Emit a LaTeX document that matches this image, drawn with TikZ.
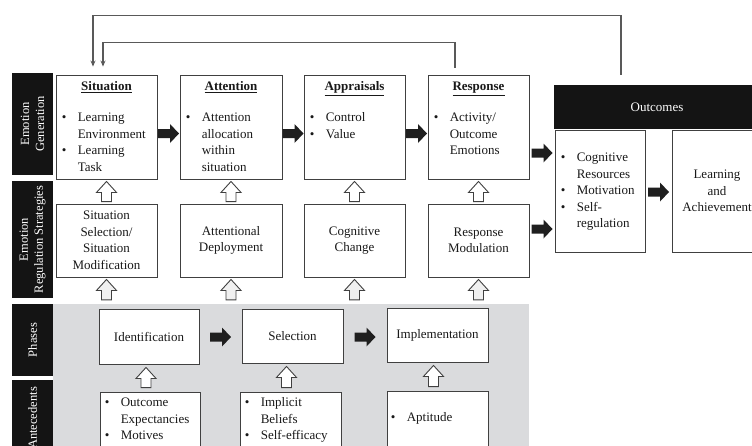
\documentclass[tikz,border=0pt]{standalone}
\usepackage{fontspec}
\setmainfont{Liberation Serif}
\usetikzlibrary{calc,arrows.meta}
\newcommand\mainfs{\fontsize{13}{16.5}\selectfont}
\newcommand\labfs{\fontsize{12.5}{15}\selectfont}
\newcommand\blist[1]{\begin{tabular}[t]{@{}l@{\hspace{11.5pt}}l@{}}#1\end{tabular}}
% hollow up arrow: #1 lower anchor, #2 upper anchor, #3 bottom gap, #4 top gap
\newcommand\hollowup[5][hollow]{%
  \draw[#1] let \p1=(#2), \p2=(#3), \n1={\y1+#4pt}, \n2={\y2-#5pt}, \n3={\y2-#5pt-11pt} in
  ({\x1-5pt},\n1) -- ({\x1-5pt},\n3) -- ({\x1-10pt},\n3) -- (\x1,\n2) --
  ({\x1+10pt},\n3) -- ({\x1+5pt},\n3) -- ({\x1+5pt},\n1) -- cycle;}
% black right arrow: #1 left node, #2 right node, #3 y (px)
\newcommand\blackright[3]{%
  \fill[blk] let \p1=(#1.east), \p2=(#2.west), \p3=(0,#3), \n1={(\x1+\x2)/2} in
  ({\n1-10.5pt},{\y3+4.5pt}) -- ({\n1+1.5pt},{\y3+4.5pt}) -- ({\n1+1.5pt},{\y3+9.5pt}) --
  ({\n1+10.5pt},\y3) -- ({\n1+1.5pt},{\y3-9.5pt}) -- ({\n1+1.5pt},{\y3-4.5pt}) --
  ({\n1-10.5pt},{\y3-4.5pt}) -- cycle;}
\begin{document}
\begin{tikzpicture}[x=1pt,y=-1pt,
  box/.style={draw=black!75,line width=0.9pt,fill=white,inner sep=0pt,align=center,font=\mainfs,text=black!90},
  lab/.style={fill=black!92,text=white,inner sep=0pt,minimum height=41pt,rotate=90,align=center,font=\labfs},
  bar/.style={fill=black!92,text=white,inner sep=0pt,align=center,font=\mainfs},
  ttl/.style={anchor=base,inner sep=0pt,font=\mainfs,text=black!90},
  bl/.style={anchor=base west,inner sep=0pt,font=\mainfs,text=black!90},
  hollow/.style={draw=black!75,line width=0.9pt,fill=white},
  hollowg/.style={draw=black!75,line width=0.9pt,fill=black!6},
  blk/.style={fill=black!88},
  fb/.style={draw=black!65,line width=1.2pt,-{Stealth[length=6pt,width=5pt]}}]
\useasboundingbox (0,0) rectangle (752,445);
\fill[white] (0,0) rectangle (752,445);

% grey background
\node[fill={rgb,255:red,218;green,219;blue,221},inner sep=0pt,minimum width=476pt,minimum height=156pt] (grey) at (291,382) {};

% left labels
\node[lab,minimum width=102pt] (lgen) at (32.5,124) {Emotion\\Generation};
\node[lab,minimum width=117pt] (lreg) at (32.5,239.5) {Emotion\\Regulation Strategies};
\node[lab,minimum width=72pt] (lph) at (32.5,340) {Phases};
\node[lab,minimum width=76pt] (lant) at (32.5,418) {Antecedents};

% emotion generation
\node[box,minimum width=101pt,minimum height=104pt] (sit) at (106.5,127) {};
\node[box,minimum width=102pt,minimum height=104pt] (att) at (231,127) {};
\node[box,minimum width=101pt,minimum height=104pt] (app) at (354.5,127) {};
\node[box,minimum width=101pt,minimum height=104pt] (resp) at (478.5,127) {};
\node[ttl] (sitT) at ([yshift=-16pt]sit.north) {\underline{\textbf{Situation}}};
\node[ttl] (attT) at ([yshift=-16pt]att.north) {\underline{\textbf{Attention}}};
\node[ttl] (appT) at ([yshift=-16pt]app.north) {\underline{\textbf{Appraisals}}};
\node[ttl] (respT) at ([yshift=-16pt]resp.north) {\underline{\textbf{Response}}};
\node[bl] (sitB) at ([xshift=6pt,yshift=-47pt]sit.north west)
  {\blist{\textbullet & Learning\\ & Environment\\ \textbullet & Learning\\ & Task}};
\node[bl] (attB) at ([xshift=6pt,yshift=-47pt]att.north west)
  {\blist{\textbullet & Attention\\ & allocation\\ & within\\ & situation}};
\node[bl] (appB) at ([xshift=6pt,yshift=-47pt]app.north west)
  {\blist{\textbullet & Control\\ \textbullet & Value}};
\node[bl] (respB) at ([xshift=6pt,yshift=-47pt]resp.north west)
  {\blist{\textbullet & Activity/\\ & Outcome\\ & Emotions}};

% regulation strategies
\node[box,minimum width=101pt,minimum height=73pt] (sitreg) at (106.5,240.5) {Situation\\Selection/\\Situation\\Modification};
\node[box,minimum width=102pt,minimum height=73pt] (attreg) at (231,240.5) {Attentional\\Deployment};
\node[box,minimum width=101pt,minimum height=73pt] (cogreg) at (354.5,240.5) {Cognitive\\Change};
\node[box,minimum width=101pt,minimum height=73pt] (respreg) at (478.5,240.5) {Response\\Modulation};

% outcomes
\node[bar,minimum width=206pt,minimum height=44pt] (outbar) at (657,107) {Outcomes};
\node[box,minimum width=90pt,minimum height=122pt] (out1) at (600,191) {};
\node[bl] (out1B) at ([xshift=6pt,yshift=-32pt]out1.north west)
  {\blist{\textbullet & Cognitive\\ & Resources\\ \textbullet & Motivation\\ \textbullet & Self-\\ & regulation}};
\node[box,minimum width=90pt,minimum height=122pt] (la) at (717,191) {Learning\\and\\Achievement};

% phases
\node[box,minimum width=100pt,minimum height=55pt] (id) at (149,336.5) {Identification};
\node[box,minimum width=101pt,minimum height=54pt] (sel) at (292.5,336) {Selection};
\node[box,minimum width=101pt,minimum height=54pt] (impl) at (437.5,335) {Implementation};

% antecedents
\node[box,minimum width=100pt,minimum height=78pt] (a1) at (150,431) {};
\node[box,minimum width=101pt,minimum height=78pt] (a2) at (290.5,431) {};
\node[box,minimum width=101pt,minimum height=79pt] (a3) at (437.5,430.5) {};
\node[bl] (a1B) at ([xshift=5pt,yshift=-15pt]a1.north west)
  {\blist{\textbullet & Outcome\\ & Expectancies\\ \textbullet & Motives}};
\node[bl] (a2B) at ([xshift=5pt,yshift=-15pt]a2.north west)
  {\blist{\textbullet & Implicit\\ & Beliefs\\ \textbullet & Self-efficacy}};
\node[bl] (a3B) at ([xshift=4pt,yshift=-31pt]a3.north west)
  {\blist{\textbullet & Aptitude}};

% black arrows
\blackright{sit}{att}{133.5}
\blackright{att}{app}{133.5}
\blackright{app}{resp}{133.5}
\blackright{resp}{out1}{153}
\blackright{respreg}{out1}{229}
\blackright{out1}{la}{192}
\blackright{id}{sel}{337}
\blackright{sel}{impl}{337}

% hollow arrows: regulation -> generation
\hollowup{sitreg.north}{sit.south}{2}{2}
\hollowup{attreg.north}{att.south}{2}{2}
\hollowup{cogreg.north}{app.south}{2}{2}
\hollowup{respreg.north}{resp.south}{2}{2}
% grey band -> regulation
\coordinate (g1) at (sitreg.south |- grey.north);
\coordinate (g2) at (attreg.south |- grey.north);
\coordinate (g3) at (cogreg.south |- grey.north);
\coordinate (g4) at (respreg.south |- grey.north);
\hollowup[hollowg]{g1}{sitreg.south}{4}{2}
\hollowup[hollowg]{g2}{attreg.south}{4}{2}
\hollowup[hollowg]{g3}{cogreg.south}{4}{2}
\hollowup[hollowg]{g4}{respreg.south}{4}{2}
% antecedents -> phases
\hollowup{[xshift=-4pt]a1.north}{[xshift=-4pt]id.south}{4}{3}
\hollowup{[xshift=-4pt]a2.north}{[xshift=-4pt]sel.south}{4}{3}
\hollowup{[xshift=-4pt]a3.north}{[xshift=-4pt]impl.south}{4}{3}

% feedback lines
\draw[fb] ([xshift=-23.5pt,yshift=7pt]resp.north) |- ([xshift=-3.5pt,yshift=32pt]sit.north) -- ([xshift=-3.5pt,yshift=8pt]sit.north);
\draw[fb] ([xshift=-36pt,yshift=10pt]outbar.north) |- ([xshift=-13.5pt,yshift=59pt]sit.north) -- ([xshift=-13.5pt,yshift=8pt]sit.north);
\end{tikzpicture}
\end{document}
